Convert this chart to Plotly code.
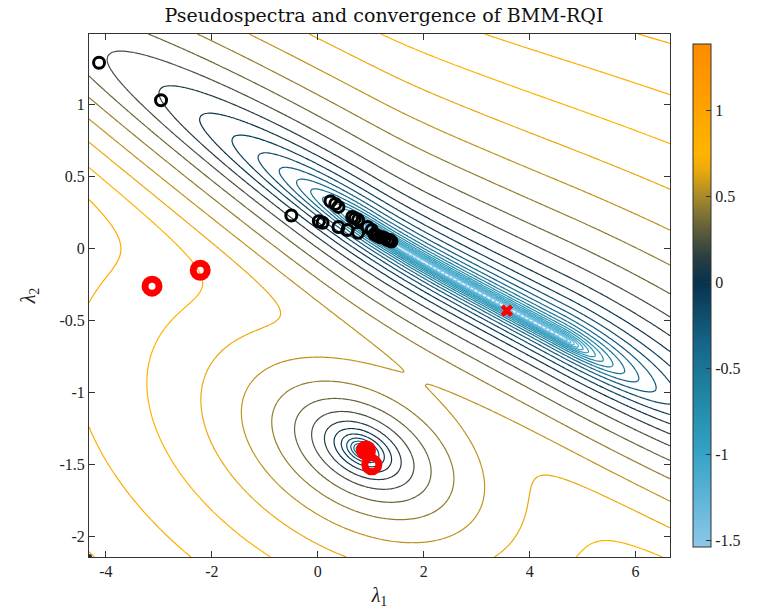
import numpy as np
import plotly.graph_objects as go

# ---------------- data ----------------
black_x = [-4.13, -2.96, -0.50, 0.02, 0.09, 0.24, 0.33, 0.39, 0.39, 0.56, 0.65, 0.70,
           0.76, 0.76, 0.94, 1.02, 1.07, 1.12, 1.17, 1.22, 1.27, 1.32, 1.36, 1.39]
black_y = [1.29, 1.03, 0.23, 0.19, 0.18, 0.33, 0.31, 0.29, 0.15, 0.13, 0.22, 0.21,
           0.20, 0.11, 0.15, 0.13, 0.10, 0.09, 0.08, 0.08, 0.07, 0.06, 0.06, 0.05]
red_open_x = [-3.13, -2.22, 1.02]
red_open_y = [-0.26, -0.15, -1.50]
red_fill_x = [0.91]
red_fill_y = [-1.40]
eig_x = [3.57]
eig_y = [-0.43]

x_ticks = [-4, -2, 0, 2, 4, 6]
y_ticks = [-2, -1.5, -1, -0.5, 0, 0.5, 1]
y_tick_text = ['-2', '-1.5', '-1', '-0.5', '0', '0.5', '1']
cb_ticks = [-1.5, -1, -0.5, 0, 0.5, 1]
cb_tick_text = ['-1.5', '-1', '-0.5', '0', '0.5', '1']

x_range = [-4.32, 6.65]
y_range = [-2.14, 1.49]
z_min, z_max = -1.54, 1.385

# ---------------- pseudospectrum surface model ----------------
gx = np.linspace(x_range[0], x_range[1], 300)
gy = np.linspace(y_range[0], y_range[1], 230)
X, Y = np.meshgrid(gx, gy)
SY = 144.0 / 54.0  # drawing aspect (px per unit y / px per unit x)


def softplus(v, s):
    return s * np.log1p(np.exp(v / s))


# valley well along a slightly bent line
yl = 0.296 - 0.198 * X + 0.04 * softplus(1.7 - X, 0.4)
dv = (Y - yl) * SY
s_top = np.exp(0.042 * (2.1 - X))
s_bot = 1.3 * np.exp(0.05 * softplus(0.5 - X, 0.5))
t = np.where(dv > 0, dv * s_top, -dv * s_bot)
u1, u2, eps = 1.06, 4.6, 0.262
w = np.maximum(0, np.maximum(u1 - X, X - u2))
te2 = t ** 2 + (eps * w) ** 2
zA = 0.275 + 0.12 * np.sqrt(te2) + 0.55 * np.log10((te2 + 1.57e-3) / (te2 + 1.7 ** 2))

# point well (tilted ellipse, pixel metric)
th = np.deg2rad(27)
ratio = 1.7
dxp = (X - 0.85) * 54
dyp = -(Y + 1.40) * 144
p = dxp * np.cos(th) + dyp * np.sin(th)
q = -dxp * np.sin(th) + dyp * np.cos(th)
R2 = (p / ratio) ** 2 + q ** 2
hh2 = R2 * (ratio ** 2 * np.sin(th) ** 2 + np.cos(th) ** 2)
zB = 0.28 + 0.4 * np.log10((hh2 + 1.8) / 49 ** 2)

P = 6.0
Z = -np.log10(10 ** (-P * zA) + 10 ** (-P * zB)) / P

cscale = [[0, '#8cc8e8'], [0.185, '#35a3c7'], [0.30, '#1f86a4'], [0.40, '#16678a'],
          [0.47, '#0e4a68'], [0.526, '#07324c'], [0.578, '#2c3f40'], [0.629, '#5c5d3c'],
          [0.697, '#a88a28'], [0.749, '#eaa90c'], [0.783, '#ffb400'], [0.868, '#ffa300'],
          [1, '#ff8a00']]

FONT = "Liberation Serif"
TXT = '#222'

fig = go.Figure()
fig.add_trace(go.Contour(
    x=gx, y=gy, z=Z, colorscale=cscale, zmin=z_min, zmax=z_max, zauto=False,
    autocontour=False, contours=dict(start=-1.5, end=1.3, size=0.1, coloring='lines'),
    line=dict(width=1.2), showscale=False, hoverinfo='skip'))

fig.add_trace(go.Scatter(
    x=[x_range[0]], y=[y_range[0]], mode='markers',
    marker=dict(size=0, color=[0], colorscale=cscale, cmin=z_min, cmax=z_max, showscale=True,
                colorbar=dict(x=1.022, xanchor='left', y=0.5, yanchor='middle', len=1.0,
                              lenmode='fraction', thickness=18, outlinewidth=1,
                              outlinecolor='#333', ticks='inside', ticklen=5,
                              tickcolor='#333', tickvals=cb_ticks, ticktext=cb_tick_text,
                              tickfont=dict(family=FONT, size=16, color=TXT))),
    showlegend=False, hoverinfo='skip'))

fig.add_trace(go.Scatter(x=black_x, y=black_y, mode='markers',
                         marker=dict(symbol='circle-open', size=11, color='black',
                                     line=dict(width=3, color='black')),
                         showlegend=False))
fig.add_trace(go.Scatter(x=red_open_x, y=red_open_y, mode='markers',
                         marker=dict(symbol='circle-open', size=14, color='red',
                                     line=dict(width=7, color='red')),
                         showlegend=False))
fig.add_trace(go.Scatter(x=red_fill_x, y=red_fill_y, mode='markers',
                         marker=dict(symbol='circle', size=20, color='red'),
                         showlegend=False))
fig.add_trace(go.Scatter(x=eig_x, y=eig_y, mode='markers',
                         marker=dict(symbol='x', size=11, color='red', line=dict(width=0)),
                         showlegend=False))

axis_common = dict(showgrid=False, zeroline=False, showline=True, linecolor='#333',
                   linewidth=1, mirror='allticks', ticks='inside', ticklen=6,
                   tickcolor='#333', tickfont=dict(family=FONT, size=16, color=TXT))

fig.update_layout(
    width=768, height=616, margin=dict(l=89, r=87, t=34, b=59),
    paper_bgcolor='white', plot_bgcolor='white',
    title=dict(text='Pseudospectra and convergence of BMM-RQI', x=0.5, xanchor='center',
               y=0.975, yanchor='middle',
               font=dict(family="DejaVu Serif", size=19, color='#111')),
    xaxis=dict(range=x_range, tickvals=x_ticks, ticktext=[str(v) for v in x_ticks],
               title=dict(text='<i>λ</i><sub>1</sub>', font=dict(family=FONT, size=20, color=TXT),
                          standoff=8),
               **axis_common),
    yaxis=dict(range=y_range, tickvals=y_ticks, ticktext=y_tick_text,
               title=dict(text='<i>λ</i><sub>2</sub>', font=dict(family=FONT, size=20, color=TXT),
                          standoff=18),
               **axis_common),
)

fig.write_html("out.html")
